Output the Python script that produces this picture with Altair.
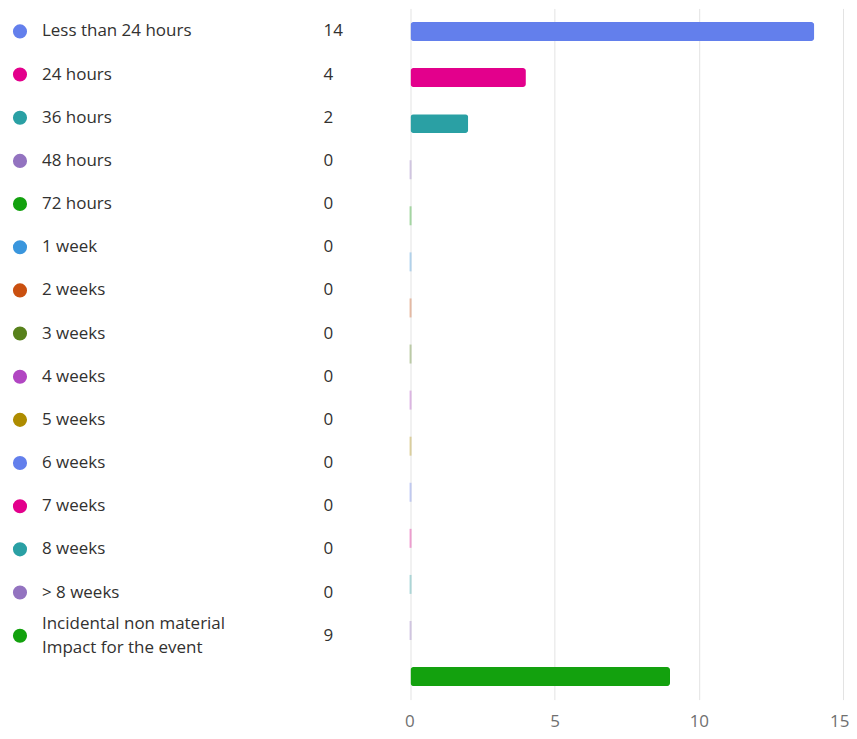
import altair as alt
import pandas as pd

categories = ["Less than 24 hours", "24 hours", "36 hours", "48 hours", "72 hours",
              "1 week", "2 weeks", "3 weeks", "4 weeks", "5 weeks", "6 weeks",
              "7 weeks", "8 weeks", "> 8 weeks",
              "Incidental non material\nImpact for the event"]
counts = [14, 4, 2, 0, 0, 0, 0, 0, 0, 0, 0, 0, 0, 0, 9]
colors = ["#637FEC", "#E3008C", "#2AA0A4", "#9373C0", "#13A10E", "#3A96DD",
          "#CA5010", "#57811B", "#B146C2", "#AE8C00", "#637FEC", "#E3008C",
          "#2AA0A4", "#9373C0", "#13A10E"]
x_ticks = [0, 5, 10, 15]

df = pd.DataFrame({"category": categories, "count": counts, "color": colors})
df["multiline"] = df["category"].str.contains("\n")

FONT = "Open Sans"
TEXT_COLOR = "#323130"

base = alt.Chart(df).encode(
    y=alt.Y("category:N", sort=categories, axis=None,
            scale=alt.Scale(padding=0.532))
)
dots = base.mark_circle(size=200, opacity=1).encode(
    x=alt.value(12), color=alt.Color("color:N", scale=None)
)
labels_single = base.mark_text(align="left", baseline="middle", fontSize=17, font=FONT,
                               color=TEXT_COLOR).encode(
    x=alt.value(34), text="category:N"
).transform_filter("!datum.multiline")
labels_multi = base.mark_text(align="left", baseline="middle", fontSize=17, font=FONT,
                              lineBreak="\n", lineHeight=24, dy=-12,
                              color=TEXT_COLOR).encode(
    x=alt.value(34), text="category:N"
).transform_filter("datum.multiline")
nums = base.mark_text(align="left", baseline="middle", fontSize=17, font=FONT,
                      color=TEXT_COLOR).encode(
    x=alt.value(316), text="count:Q"
)
left = alt.layer(dots, labels_single, labels_multi, nums).properties(width=403, height=651)

ybar = alt.Y("category:N", sort=categories, axis=None,
             scale=alt.Scale(paddingInner=0.59, paddingOuter=0.295))
xbar = alt.X("count:Q", scale=alt.Scale(domain=[0, 15], nice=False),
             axis=alt.Axis(values=x_ticks, grid=True, domain=False, ticks=False,
                           labelFlush=True, labelFlushOffset=6,
                           labelFontSize=17, labelFont=FONT,
                           labelColor="#707070", labelPadding=14,
                           gridColor="#e3e3e3", title=None))
bars = alt.Chart(df).mark_bar(cornerRadius=3, strokeWidth=1, strokeOpacity=0.35).encode(
    y=ybar, x=xbar,
    color=alt.Color("color:N", scale=None),
    stroke=alt.Stroke("color:N", scale=None),
)
zero_ticks = alt.Chart(df).mark_tick(thickness=2, size=19, opacity=0.35).encode(
    y=ybar, x=xbar,
    color=alt.Color("color:N", scale=None),
).transform_filter("datum.count == 0")
right = alt.layer(bars, zero_ticks).properties(width=433, height=692)

chart = alt.hconcat(left, right, spacing=0, bounds="flush").properties(
    padding={"left": 0, "top": 0, "right": 0, "bottom": 3}
).configure_view(stroke=None)

chart.save("out.html", embed_options={"renderer": "svg", "actions": False})
